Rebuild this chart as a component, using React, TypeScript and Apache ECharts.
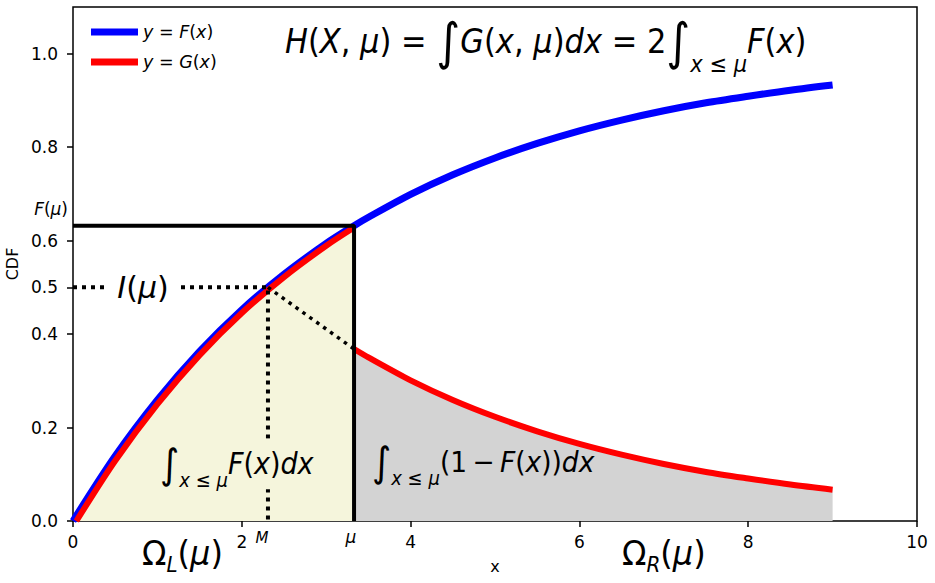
import React, { useEffect, useRef } from 'react';
import * as echarts from 'echarts';

// ---- data ----
const MU = 3.33;          // position of mu on the x axis
const F_MU = 0.632;       // F(mu)
const G_MU = 0.368;       // 1 - F(mu)
const MEDIAN = 2.31;      // M
const HALF = 0.5;

const fX = [0, 0.5, 1, 1.5, 2, 2.5, 3, 3.33, 3.5, 4, 4.5, 5, 5.5, 6, 6.5, 7, 7.5, 8, 8.5, 9];
const fValues = [0, 0.139, 0.259, 0.363, 0.452, 0.528, 0.594, 0.632, 0.65, 0.699, 0.741, 0.777, 0.808, 0.835, 0.858, 0.878, 0.895, 0.909, 0.922, 0.933];

const gLeftX = [0.04, 0.5, 1, 1.5, 2, 2.5, 3, 3.33];
const gLeftValues = [0, 0.129, 0.25, 0.355, 0.445, 0.522, 0.589, 0.628];
const gRightX = [3.33, 3.5, 4, 4.5, 5, 5.5, 6, 6.5, 7, 7.5, 8, 8.5, 9];
const gRightValues = [0.368, 0.35, 0.301, 0.259, 0.223, 0.192, 0.165, 0.142, 0.122, 0.105, 0.091, 0.078, 0.067];

const yTicks = [0, 0.2, 0.4, 0.5, 0.6, 0.8, 1.0];
const xTickInterval = 2;

const FONT = 'DejaVu Sans';
const TS = '\u2009'; // thin space

const pair = (xs: number[], ys: number[]) => xs.map((x, i) => [x, ys[i]]);

function richStyles(size: number, intSize: number, subSize: number, subPad: number) {
  return {
    n: { fontFamily: FONT, fontSize: size, fill: '#000', fontStyle: 'normal' },
    i: { fontFamily: FONT, fontSize: size, fill: '#000', fontStyle: 'italic' },
    int: { fontFamily: FONT, fontSize: intSize, fill: '#000', fontStyle: 'normal' },
    sub: { fontFamily: FONT, fontSize: subSize, fill: '#000', fontStyle: 'italic', padding: [subPad, 0, 0, 0] },
  };
}

export default function App() {
  const ref = useRef<HTMLDivElement>(null);
  useEffect(() => {
    const chart = echarts.init(ref.current as HTMLDivElement, null, { renderer: 'svg' });
    const fIdxMu = fX.indexOf(MU);
    const legendRich = {
      n: { fontFamily: FONT, fontSize: 17.5, color: '#000' },
      i: { fontFamily: FONT, fontSize: 17.5, color: '#000', fontStyle: 'italic' },
    };
    const option: any = {
      animation: false,
      backgroundColor: '#ffffff',
      grid: {
        left: 73, right: 18, top: 7, bottom: 62, containLabel: false, outerBoundsMode: 'none',
        show: true, borderColor: '#000', borderWidth: 1.5, backgroundColor: 'transparent',
      },
      xAxis: {
        type: 'value', min: 0, max: 10, interval: xTickInterval,
        name: 'x', nameLocation: 'middle', nameGap: 37,
        nameTextStyle: { fontFamily: FONT, fontSize: 16, color: '#000' },
        axisLine: { show: false },
        axisTick: { show: true, length: 6, lineStyle: { color: '#000', width: 1.5 } },
        axisLabel: { fontFamily: FONT, fontSize: 17, color: '#000', margin: 12 },
        splitLine: { show: false },
      },
      yAxis: {
        type: 'value', min: 0, max: 1.1,
        name: 'CDF', nameLocation: 'middle', nameGap: 53,
        nameTextStyle: { fontFamily: FONT, fontSize: 16, color: '#000' },
        axisLine: { show: false },
        axisTick: { show: true, length: 6, lineStyle: { color: '#000', width: 1.5 }, customValues: yTicks },
        axisLabel: { fontFamily: FONT, fontSize: 17, color: '#000', margin: 15, customValues: yTicks, formatter: (v: number) => v.toFixed(1) },
        splitLine: { show: false },
      },
      legend: {
        data: ['F', 'G'], orient: 'vertical', left: 86, top: 17, icon: 'rect',
        itemWidth: 47, itemHeight: 7, itemGap: 10,
        textStyle: { fontFamily: FONT, fontSize: 17.5, color: '#000', lineHeight: 20, rich: legendRich },
        formatter: (name: string) => `{i|y}{n| = }{i|${name}}{n|(}{i|x}{n|)}`,
      },
      series: [
        {
          name: 'fillL', type: 'line', data: pair(fX.slice(0, fIdxMu + 1), fValues.slice(0, fIdxMu + 1)),
          symbol: 'none', smooth: 0.3, lineStyle: { width: 0 }, areaStyle: { color: '#f5f5dc', opacity: 1 }, z: 1, silent: true,
        },
        {
          name: 'fillR', type: 'line', data: pair(gRightX, gRightValues),
          symbol: 'none', smooth: 0.3, lineStyle: { width: 0 }, areaStyle: { color: '#d3d3d3', opacity: 1 }, z: 1, silent: true,
        },
        {
          name: 'F', type: 'line', data: pair(fX, fValues), color: '#0000ff',
          symbol: 'none', smooth: 0.3, lineStyle: { width: 7, color: '#0000ff', cap: 'butt' }, z: 3,
        },
        {
          name: 'G', type: 'line', data: [...pair(gLeftX, gLeftValues), [MU, '-'], ...pair(gRightX, gRightValues)], color: '#ff0000',
          symbol: 'none', smooth: 0.3, connectNulls: false, lineStyle: { width: 6, color: '#ff0000', cap: 'butt' }, z: 4,
        },
        {
          name: 'box', type: 'line', data: [[0, F_MU], [MU, F_MU], [MU, 0]],
          symbol: 'none', lineStyle: { width: 4, color: '#000' }, z: 5, silent: true,
        },
        {
          name: 'dotHV', type: 'line', data: [[0, HALF], [MEDIAN, HALF], [MEDIAN, 0]],
          symbol: 'none', lineStyle: { width: 4, color: '#000', type: [4, 5] }, z: 5, silent: true,
        },
        {
          name: 'dotDiag', type: 'line', data: [[MEDIAN, HALF], [MU, G_MU]],
          symbol: 'none', lineStyle: { width: 3.5, color: '#000', type: [3.5, 5] }, z: 5, silent: true,
        },
      ],
      graphic: [
        {
          type: 'text', x: 285, y: 41, scaleY: 1.1, z: 100,
          style: {
            text: '{i|H}{n|(}{i|X}{n|, }{i|μ}{n|) = }{int|∫}{i|G}{n|(}{i|x}{n|, }{i|μ}{n|)}{i|dx}{n| = 2}{int|∫}{sub|x ≤ μ}{i|F}{n|(}{i|x}{n|)}',
            rich: richStyles(30.5, 46, 21, 43), align: 'left', verticalAlign: 'middle',
          },
        },
        {
          type: 'text', x: 158, y: 464, scaleY: 1.1, z: 100,
          style: {
            text: '{int|∫}{sub|x ≤ μ}{i|F}{n|(}{i|x}{n|)}{i|dx}',
            rich: richStyles(27, 37, 18, 28), align: 'left', verticalAlign: 'middle',
            backgroundColor: '#f5f5dc', padding: [0, 2, 0, 2],
          },
        },
        {
          type: 'text', x: 372, y: 462, scaleY: 1.1, z: 100,
          style: {
            text: `{int|∫}{sub|x ≤ μ}{n|(1${TS}−${TS}}{i|F}{n|(}{i|x}{n|))}{i|dx}`,
            rich: richStyles(26.5, 37, 18, 28), align: 'left', verticalAlign: 'middle',
          },
        },
        {
          type: 'text', x: 143, y: 287, z: 100,
          style: {
            text: '{i|I}{n|(}{i|μ}{n|)}',
            rich: richStyles(30, 30, 16, 0), align: 'center', verticalAlign: 'middle',
            backgroundColor: '#ffffff', padding: [0, 9, 0, 9],
          },
        },
        {
          type: 'text', x: 142, y: 554, scaleY: 1.05, z: 100,
          style: { text: '{n|Ω}{sub|L}{n|(}{i|μ}{n|)}', rich: richStyles(32, 32, 20, 20), align: 'left', verticalAlign: 'middle' },
        },
        {
          type: 'text', x: 622, y: 554, scaleY: 1.05, z: 100,
          style: { text: '{n|Ω}{sub|R}{n|(}{i|μ}{n|)}', rich: richStyles(32, 32, 20, 20), align: 'left', verticalAlign: 'middle' },
        },
        {
          type: 'text', x: 262, y: 538, z: 100,
          style: { text: 'M', fontFamily: FONT, fontSize: 15, fontStyle: 'italic', fill: '#000', align: 'center', verticalAlign: 'middle' },
        },
        {
          type: 'text', x: 351, y: 537, z: 100,
          style: { text: 'μ', fontFamily: FONT, fontSize: 17, fontStyle: 'italic', fill: '#000', align: 'center', verticalAlign: 'middle' },
        },
        {
          type: 'text', x: 68, y: 209, z: 100,
          style: { text: '{i|F}{n|(}{i|μ}{n|)}', rich: richStyles(17, 17, 12, 0), align: 'right', verticalAlign: 'middle' },
        },
      ],
    };
    chart.setOption(option);
    return () => chart.dispose();
  }, []);
  return <div ref={ref} style={{ position: 'fixed', left: 0, top: 0, width: 935, height: 583 }} />;
}
